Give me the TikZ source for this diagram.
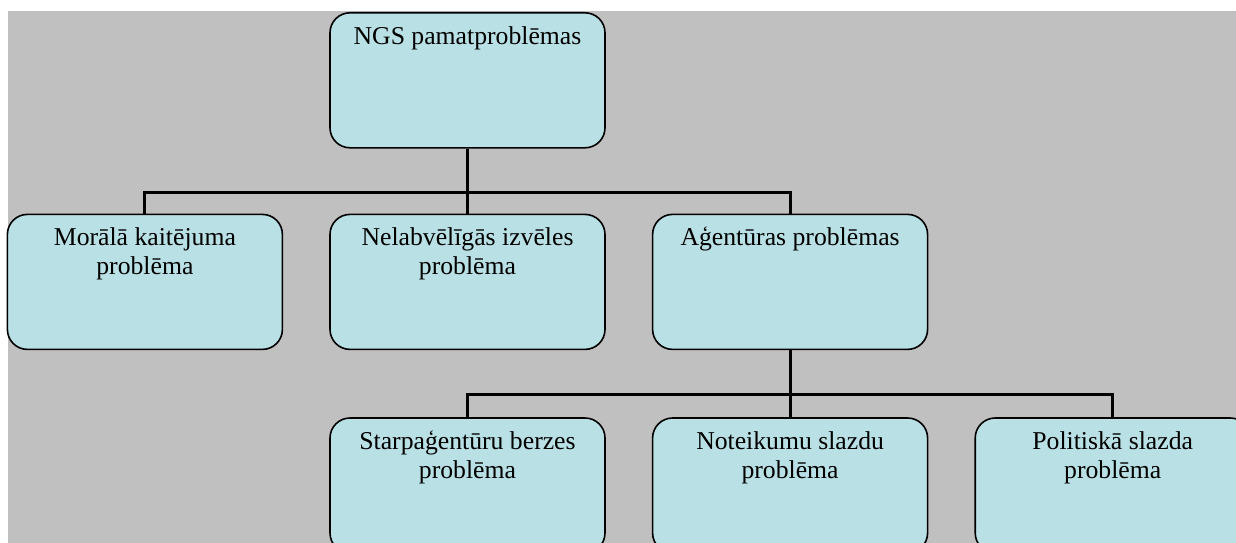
\documentclass[tikz,border=0pt]{standalone}
\usepackage{fontspec}
\setmainfont{Liberation Serif}
\usepackage{tikz}
\usetikzlibrary{positioning}
\definecolor{boxfill}{HTML}{B9E0E4}
\definecolor{backgray}{HTML}{C0C0C0}
\tikzset{
  probbox/.style={draw=black, line width=1.6pt, fill=boxfill, rounded corners=20pt, minimum width=275pt, minimum height=135pt, inner sep=0pt},
  boxtext/.style={anchor=north, inner sep=0pt, yshift=-11.7pt, align=center, font=\fontsize{25.7}{29}\selectfont},
  link/.style={draw=black, line width=3pt}
}

\begin{document}
\begin{tikzpicture}[x=1pt, y=-1pt]

% page and background
\useasboundingbox (0,0) rectangle (1236,543);
\clip (0,0) rectangle (1236,543);
\fill[backgray] (8,11) rectangle (1236,543);

% boxes
\node[probbox, anchor=north, label={[boxtext, name=ngsT]north:{\strut NGS pamatproblēmas}}] (ngs) at (467.5,12) {};

\node[probbox, below=65pt of ngs, label={[boxtext, name=adverseT]north:{\strut Nelabvēlīgās izvēles\\problēma}}] (adverse) {};
\node[probbox, left=46pt of adverse, label={[boxtext, name=moralT]north:{\strut Morālā kaitējuma\\problēma}}] (moral) {};
\node[probbox, right=46pt of adverse, label={[boxtext, name=agentT]north:{\strut Aģentūras problēmas}}] (agent) {};

\node[probbox, below=67pt of agent, label={[boxtext, name=rulesT]north:{\strut Noteikumu slazdu\\problēma}}] (rules) {};
\node[probbox, left=46pt of rules, label={[boxtext, name=frictT]north:{\strut Starpaģentūru berzes\\problēma}}] (frict) {};
\node[probbox, right=46pt of rules, label={[boxtext, name=politT]north:{\strut Politiskā slazda\\problēma}}] (polit) {};

% connectors
\draw[link] (ngs.south) -- (adverse.north);
\draw[link] (moral.north) |- ([yshift=21pt]adverse.north) -| (agent.north);
\draw[link] (agent.south) -- (rules.north);
\draw[link] (frict.north) |- ([yshift=23pt]rules.north) -| (polit.north);

\end{tikzpicture}
\end{document}
